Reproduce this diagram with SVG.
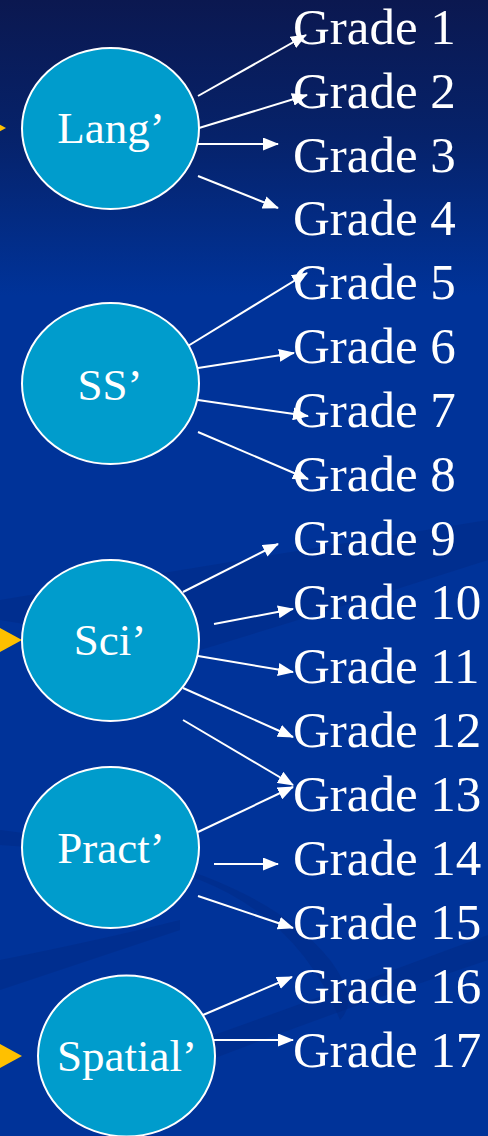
<svg xmlns="http://www.w3.org/2000/svg" width="488" height="1136" viewBox="0 0 488 1136">
<defs>
<linearGradient id="bg" x1="0" y1="0" x2="0" y2="1136" gradientUnits="userSpaceOnUse">
<stop offset="0" stop-color="#0b1850"/>
<stop offset="0.12" stop-color="#06226a"/>
<stop offset="0.26" stop-color="#003399"/>
<stop offset="1" stop-color="#003399"/>
</linearGradient>
<marker id="ah" viewBox="0 0 16 13" refX="15" refY="6.5" markerWidth="16" markerHeight="13" markerUnits="userSpaceOnUse" orient="auto">
<path d="M0,0 L16,6.5 L0,13 Z" fill="#ffffff"/>
</marker>
<style>
.node ellipse{fill:#009ccc;stroke:#ffffff;stroke-width:2}
.node text{font-family:"Liberation Serif","Times New Roman",serif;font-size:45px;fill:#ffffff;text-anchor:middle}
.grade{font-family:"Liberation Serif","Times New Roman",serif;font-size:51px;fill:#ffffff}
#connectors line{stroke:#ffffff;stroke-width:2;marker-end:url(#ah)}
.yel{fill:#ffc000}
.swoosh{fill:#00287f;opacity:0.4}
</style>
</defs>
<rect x="0" y="0" width="488" height="1136" fill="url(#bg)"/>
<g id="background">
<path class="swoosh" d="M0,600 Q240,560 488,520 L488,560 Q300,620 200,650 Q120,640 0,620 Z"/>
<path class="swoosh" d="M0,830 Q250,860 330,960 Q360,1000 340,1020 Q300,920 200,880 Q100,850 0,845 Z"/>
<path class="swoosh" d="M0,960 Q100,940 180,920 L180,930 Q90,960 0,990 Z"/>
<path class="swoosh" d="M200,1040 Q340,990 488,935 L488,960 Q340,1010 210,1060 Z"/>
</g>
<g id="yellow-arrows">
<polygon class="yel" points="0,124.7 6,128 0,131.3"/>
<polygon class="yel" points="0,628 22,640 0,652"/>
<polygon class="yel" points="0,1044 22,1056 0,1068"/>
</g>
<g id="connectors">
<line x1="198" y1="96" x2="306" y2="35"/>
<line x1="199" y1="128" x2="307" y2="95"/>
<line x1="198" y1="144" x2="278" y2="144"/>
<line x1="198" y1="176" x2="278" y2="208"/>
<line x1="183" y1="349" x2="307" y2="273"/>
<line x1="198" y1="368" x2="294" y2="353"/>
<line x1="198" y1="400" x2="308" y2="416"/>
<line x1="198" y1="432" x2="308" y2="479"/>
<line x1="183" y1="592" x2="278" y2="544"/>
<line x1="214" y1="624" x2="293" y2="609"/>
<line x1="198" y1="656" x2="293" y2="672"/>
<line x1="183" y1="688" x2="293" y2="737"/>
<line x1="183" y1="720" x2="293" y2="785"/>
<line x1="198" y1="832" x2="293" y2="787"/>
<line x1="214" y1="864" x2="278" y2="864"/>
<line x1="198" y1="896" x2="293" y2="928"/>
<line x1="203" y1="1015" x2="292" y2="977"/>
<line x1="214" y1="1040" x2="293" y2="1040"/>
</g>
<g id="node-lang" class="node"><ellipse cx="110.5" cy="128.5" rx="88.5" ry="80.5"/><text x="111" y="143">Lang’</text></g>
<g id="node-ss" class="node"><ellipse cx="110.5" cy="383.5" rx="88.5" ry="80.5"/><text x="110" y="400">SS’</text></g>
<g id="node-sci" class="node"><ellipse cx="110.5" cy="640.5" rx="88.5" ry="80.5"/><text x="110" y="655">Sci’</text></g>
<g id="node-pract" class="node"><ellipse cx="110.5" cy="847.5" rx="88.5" ry="80.5"/><text x="111" y="863">Pract’</text></g>
<g id="node-spatial" class="node"><ellipse cx="126.5" cy="1056" rx="88.5" ry="80.5"/><text x="127" y="1071">Spatial’</text></g>
<g id="grades">
<text class="grade" x="293" y="44">Grade 1</text>
<text class="grade" x="293" y="108">Grade 2</text>
<text class="grade" x="293" y="172">Grade 3</text>
<text class="grade" x="293" y="235">Grade 4</text>
<text class="grade" x="293" y="299">Grade 5</text>
<text class="grade" x="293" y="363">Grade 6</text>
<text class="grade" x="293" y="427">Grade 7</text>
<text class="grade" x="293" y="491">Grade 8</text>
<text class="grade" x="293" y="555">Grade 9</text>
<text class="grade" x="293" y="619">Grade 10</text>
<text class="grade" x="293" y="683">Grade 11</text>
<text class="grade" x="293" y="747">Grade 12</text>
<text class="grade" x="293" y="811">Grade 13</text>
<text class="grade" x="293" y="875">Grade 14</text>
<text class="grade" x="293" y="939">Grade 15</text>
<text class="grade" x="293" y="1003">Grade 16</text>
<text class="grade" x="293" y="1067">Grade 17</text>
</g>
</svg>
